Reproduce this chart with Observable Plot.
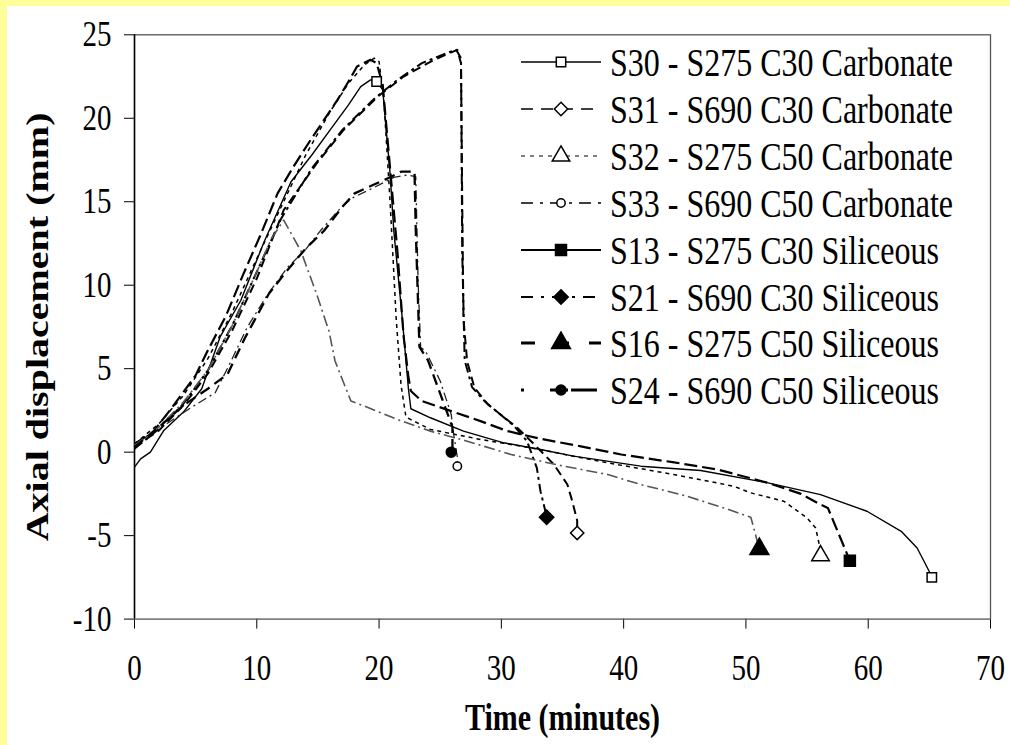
<!DOCTYPE html>
<html><head><meta charset="utf-8">
<script src="https://cdn.jsdelivr.net/npm/d3@7"></script>
<script src="https://cdn.jsdelivr.net/npm/@observablehq/plot@0.6"></script>
<style>
html,body{margin:0;padding:0;background:#ffff99;width:1010px;height:745px;overflow:hidden;}
#panel{position:absolute;left:7px;top:6px;width:1003px;height:739px;background:#fff;}
</style></head><body><div id="panel"></div><script>
// ---- data ----
const xTicks = [0, 10, 20, 30, 40, 50, 60, 70];
const yTicks = [-10, -5, 0, 5, 10, 15, 20, 25];
const xTitle = "Time (minutes)";
const yTitle = "Axial displacement (mm)";

const seriesKeys = ["S30", "S31", "S32", "S33", "S13", "S21", "S16", "S24"];
const seriesLabels = [
  "S30 - S275 C30 Carbonate",
  "S31 - S690 C30 Carbonate",
  "S32 - S275 C50 Carbonate",
  "S33 - S690 C50 Carbonate",
  "S13 - S275 C30 Siliceous",
  "S21 - S690 C30 Siliceous",
  "S16 - S275 C50 Siliceous",
  "S24 - S690 C50 Siliceous"
];

const s30Time = [0, 0.5, 1.3, 2.4, 4.0, 5.5, 7.0, 8.7, 10.6, 12.8, 14.5, 16.0, 17.5, 18.5, 19.3, 19.8, 20.3, 20.9, 21.2, 21.9, 22.4, 22.6, 24.2, 26.9, 30.2, 33.2, 35.9, 41.4, 46.3, 51.8, 56.1, 59.9, 62.7, 64.0, 65.1, 65.2];
const s30Disp = [-0.9, -0.4, 0.0, 1.3, 2.4, 3.8, 6.9, 9.1, 12.6, 16.2, 17.8, 19.3, 20.8, 21.9, 22.3, 22.2, 21.7, 16.7, 13.3, 8.0, 3.8, 2.6, 2.06, 1.26, 0.56, 0.16, -0.24, -0.84, -1.1, -1.84, -2.54, -3.54, -4.74, -5.74, -7.3, -7.5];

const s31Time = [0, 2.0, 4.0, 6.0, 8.0, 10.0, 12.2, 14.9, 17.1, 19.9, 22.0, 24.5, 26.4, 26.7, 26.8, 26.9, 27.2, 27.8, 28.9, 31.3, 32.7, 34.3, 35.4, 35.8, 36.2, 36.2];
const s31Disp = [0.3, 1.3, 2.8, 4.7, 7.3, 10.4, 14.5, 17.3, 19.3, 21.3, 22.5, 23.5, 24.1, 23.3, 15.0, 8.0, 5.45, 3.85, 2.86, 1.46, 0.46, -0.74, -1.94, -2.94, -4.1, -4.84];

const s32Time = [0, 2.0, 4.0, 6.0, 8.0, 10.0, 12.0, 14.0, 16.0, 17.5, 18.8, 19.6, 20.0, 20.4, 20.9, 21.4, 21.8, 22.2, 24.2, 28.3, 32.4, 38.7, 44.1, 49.0, 50.4, 53.1, 55.0, 55.7, 56.0, 56.1];
const s32Disp = [0.5, 1.7, 3.4, 5.6, 8.4, 11.6, 14.7, 17.8, 20.4, 22.1, 23.2, 23.6, 23.4, 21.0, 15.0, 8.0, 4.0, 2.1, 1.36, 0.76, 0.26, -0.64, -1.34, -2.04, -2.44, -2.94, -3.94, -4.54, -5.54, -6.2];

const s33Time = [0, 1.7, 4.6, 6.6, 7.9, 9.2, 10.9, 12.5, 13.9, 15.2, 16.9, 17.9, 19.6, 21.2, 22.3, 23.0, 23.2, 23.4, 23.8, 25.0, 25.9, 26.1, 26.4, 26.4];
const s33Disp = [0.5, 1.25, 2.66, 3.56, 5.46, 7.46, 9.46, 11.06, 12.06, 13.26, 14.66, 15.26, 15.86, 16.46, 16.6, 16.5, 10.0, 6.26, 6.06, 4.26, 2.26, 1.06, -0.3, -0.84];

const s13Time = [0, 1.5, 3.0, 5.0, 5.9, 7.5, 8.9, 10.3, 11.7, 13.0, 14.4, 15.5, 16.6, 17.5, 18.2, 19.3, 19.8, 20.3, 20.9, 21.5, 22.0, 22.4, 22.6, 23.5, 25.9, 28.3, 30.5, 33.2, 36.5, 39.8, 44.0, 47.7, 51.8, 54.5, 56.1, 56.7, 58.5];
const s13Disp = [0.5, 1.2, 2.6, 4.6, 5.96, 8.2, 10.66, 13.0, 15.5, 17.1, 18.7, 19.9, 21.1, 22.2, 23.1, 23.5, 23.3, 22.0, 17.0, 12.0, 7.0, 4.5, 3.66, 3.06, 2.46, 1.86, 1.26, 0.8, 0.35, -0.14, -0.6, -1.04, -1.84, -2.5, -3.14, -3.34, -6.5];

const s21Time = [0, 2.0, 4.0, 6.0, 8.0, 10.0, 12.0, 14.5, 17.0, 19.5, 21.5, 23.5, 25.5, 26.3, 26.7, 26.8, 27.0, 27.6, 28.7, 31.0, 32.1, 32.9, 33.2, 33.6, 33.7];
const s21Disp = [0.2, 1.4, 2.9, 4.9, 7.6, 10.8, 14.0, 17.0, 19.3, 21.1, 22.3, 23.3, 23.9, 24.1, 23.6, 12.0, 5.5, 3.9, 3.0, 1.6, 0.66, -0.94, -2.34, -3.54, -3.9];

const s16Time = [0, 2.0, 4.0, 6.0, 8.0, 10.0, 11.2, 12.2, 13.6, 14.9, 15.9, 16.4, 17.1, 17.7, 18.8, 21.5, 24.2, 27.0, 30.8, 34.5, 38.7, 41.4, 45.0, 48.2, 50.4, 51.1];
const s16Disp = [0.4, 1.5, 3.0, 4.9, 7.6, 10.8, 12.8, 13.9, 12.06, 9.46, 7.26, 5.46, 4.16, 3.06, 2.76, 1.96, 1.26, 0.7, -0.14, -0.75, -1.34, -1.94, -2.6, -3.34, -3.9, -5.8];

const s24Time = [0, 2.0, 4.0, 6.0, 7.6, 9.0, 11.0, 12.5, 14.0, 15.5, 17.0, 18.0, 19.5, 21.0, 21.8, 22.9, 23.0, 23.3, 24.0, 25.5, 26.0, 26.0];
const s24Disp = [0.3, 1.5, 2.8, 3.8, 4.66, 6.8, 9.5, 10.9, 12.2, 13.26, 14.7, 15.5, 16.0, 16.5, 16.8, 16.8, 13.3, 6.3, 5.5, 2.5, 1.5, 0.0];

// marker points (end of each test, plus one intermediate S30 marker)
const markerKey  = ["S30", "S30", "S31", "S32", "S33", "S13", "S21", "S16", "S24"];
const markerTime = [19.8, 65.2, 36.2, 56.1, 26.4, 58.5, 33.7, 51.1, 25.9];
const markerDisp = [22.2, -7.5, -4.84, -6.2, -0.84, -6.5, -3.9, -5.8, 0.0];

// ---- styles ----
const styles = {
  S30: {stroke: "#000", width: 1.4, dash: null, symbol: "square", fill: "white", r: 5.3},
  S31: {stroke: "#000", width: 2.0, dash: "9,5", symbol: "diamond2", fill: "white", r: 6},
  S32: {stroke: "#000", width: 1.5, dash: "4,4", symbol: "triangle", fill: "white", r: 6.5},
  S33: {stroke: "#222", width: 1.3, dash: "9,4,2,4", symbol: "circle", fill: "white", r: 4.2},
  S13: {stroke: "#000", width: 2.2, dash: "13,5", symbol: "square", fill: "black", r: 6.2},
  S21: {stroke: "#000", width: 2.0, dash: "10,4,3,4", symbol: "diamond2", fill: "black", r: 6.5},
  S16: {stroke: "#555", width: 1.6, dash: "11,4,2,4", symbol: "triangle", fill: "black", r: 7},
  S24: {stroke: "#000", width: 2.3, dash: "11,6", symbol: "circle", fill: "black", r: 5}
};
const legendStyles = {
  S30: {dash: null, width: 1.3},
  S31: {dash: "12,8", width: 1.5},
  S32: {dash: "4,5", width: 1.2},
  S33: {dash: "12,7,3,7", width: 1.5},
  S13: {dash: null, width: 2.2},
  S21: {dash: "12,8,3,8", width: 2},
  S16: {dash: "14,20", width: 3},
  S24: {dash: "3,26,18", width: 3}
};
const textStretch = 1.25; // reference text is vertically stretched

const seriesData = {
  S30: [s30Time, s30Disp], S31: [s31Time, s31Disp], S32: [s32Time, s32Disp], S33: [s33Time, s33Disp],
  S13: [s13Time, s13Disp], S21: [s21Time, s21Disp], S16: [s16Time, s16Disp], S24: [s24Time, s24Disp]
};

const lineMarks = seriesKeys.map(k => {
  const [t, v] = seriesData[k];
  const st = styles[k];
  return Plot.line(t.map((x, i) => ({t: x, v: v[i]})), {
    x: "t", y: "v", stroke: st.stroke, strokeWidth: st.width,
    strokeDasharray: st.dash || undefined, strokeLinejoin: "round", strokeLinecap: "butt"
  });
});

const markerRows = markerKey.map((k, i) => ({k, t: markerTime[i], v: markerDisp[i]}));
const dotMarks = seriesKeys.map(k => {
  const st = styles[k];
  return Plot.dot(markerRows.filter(d => d.k === k), {
    x: "t", y: "v", symbol: st.symbol, r: st.r, fill: st.fill, stroke: "#000", strokeWidth: 1.5
  });
});

const W = 1003, H = 739;
const chart = Plot.plot({
  width: W, height: H,
  marginLeft: 127, marginRight: 20, marginTop: 28.3, marginBottom: 126.4,
  style: {fontFamily: "'Liberation Serif', 'Times New Roman', serif", fontSize: "29px", background: "white", color: "black"},
  x: {domain: [0, 70], ticks: xTicks, tickSize: 10, tickPadding: 25, label: null, tickFormat: d => String(d)},
  y: {domain: [-10, 25], ticks: yTicks, tickSize: 10, tickPadding: 13, label: null, tickFormat: d => String(d)},
  marks: [
    Plot.frame({stroke: "#555", strokeWidth: 1.3}),
    Plot.ruleX([0], {stroke: "#000", strokeWidth: 1.5}),
    ...lineMarks,
    ...dotMarks,
    Plot.text([yTitle], {text: d => d, frameAnchor: "left", dx: -97, rotate: -90, textAnchor: "middle", lineAnchor: "middle", fontSize: 32, fontWeight: "bold"}),
    Plot.text([xTitle], {text: d => d, frameAnchor: "bottom", dy: 99, textAnchor: "middle", lineAnchor: "middle", fontSize: 30, fontWeight: "bold"})
  ]
});
document.getElementById("panel").appendChild(chart);

// stretch all chart texts vertically (page direction) about their anchor
chart.querySelectorAll("text").forEach(t => {
  const tr = t.getAttribute("transform") || "";
  const m = tr.match(/^\s*translate\([^)]*\)/);
  if (m) {
    t.setAttribute("transform", m[0] + ` scale(1,${textStretch})` + tr.slice(m[0].length));
  } else {
    const x = +t.getAttribute("x") || 0, y = +t.getAttribute("y") || 0;
    t.setAttribute("transform", `translate(${x},${y}) scale(1,${textStretch}) translate(${-x},${-y}) ${tr}`);
  }
});

// ---- legend (inside plot area, top right) ----
const legendRowY = [62, 109, 156, 203, 250, 297, 343, 390];
const lg = d3.select("#panel").append("svg")
  .attr("width", W).attr("height", H)
  .style("position", "absolute").style("left", "0px").style("top", "0px")
  .style("font-family", "'Liberation Serif', 'Times New Roman', serif");
const symMap = {square: d3.symbolSquare, diamond2: d3.symbolDiamond2, triangle: d3.symbolTriangle, circle: d3.symbolCircle};
seriesKeys.forEach((k, i) => {
  const y = legendRowY[i] - 6;
  const g = lg.append("g");
  const ls = legendStyles[k];
  g.append("line").attr("x1", 514).attr("x2", 594).attr("y1", y).attr("y2", y)
    .attr("stroke", "#000").attr("stroke-width", ls.width)
    .attr("stroke-dasharray", ls.dash || null);
  const st = styles[k];
  g.append("path").attr("d", d3.symbol(symMap[st.symbol], Math.PI * st.r * st.r)())
    .attr("transform", `translate(554,${y})`)
    .attr("fill", st.fill).attr("stroke", "#000").attr("stroke-width", 1.5);
  g.append("text").attr("transform", `translate(603,${y}) scale(1,${textStretch})`)
    .attr("dy", "0.35em").attr("font-size", 32).attr("fill", "#000").text(seriesLabels[i]);
});
</script></body></html>
